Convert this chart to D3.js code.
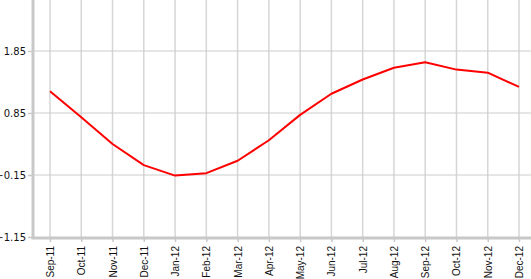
<!DOCTYPE html>
<html><head><meta charset="utf-8">
<script src="https://cdn.jsdelivr.net/npm/d3@7"></script>
<style>body{margin:0;background:#fff;}svg{display:block;}</style>
</head><body>
<script>
const categories = ["Sep-11","Oct-11","Nov-11","Dec-11","Jan-12","Feb-12","Mar-12","Apr-12","May-12","Jun-12","Jul-12","Aug-12","Sep-12","Oct-12","Nov-12","Dec-12"];
const values = [1.20, 0.78, 0.35, 0.01, -0.16, -0.12, 0.08, 0.41, 0.82, 1.16, 1.39, 1.58, 1.67, 1.55, 1.50, 1.27];
const yTicks = [-1.15, -0.15, 0.85, 1.85];

const W = 531, H = 279;
const svg = d3.select("body").append("svg").attr("width", W).attr("height", H);
const x = d3.scalePoint().domain(categories).range([50, 519]);
const y = d3.scaleLinear().domain([-1.15, 1.85]).range([237, 51]);
const axisX = 33, axisY = 237;

// vertical gridlines
svg.append("g").selectAll("line").data(categories).join("line")
  .attr("x1", d => x(d)).attr("x2", d => x(d)).attr("y1", 0).attr("y2", axisY)
  .attr("stroke", "#d6d6d6").attr("stroke-width", 1.5);
// horizontal gridlines
svg.append("g").selectAll("line").data(yTicks.slice(1)).join("line")
  .attr("x1", axisX).attr("x2", W).attr("y1", d => y(d)).attr("y2", d => y(d))
  .attr("stroke", "#cccccc").attr("stroke-width", 1);

// y axis
const ya = svg.append("g").attr("transform", `translate(${axisX},0)`)
  .call(d3.axisLeft(y).tickValues(yTicks).tickFormat(d3.format(".2f")).tickSize(5).tickPadding(2));
ya.select(".domain").remove();
ya.selectAll(".tick line").attr("stroke", "#c8c8c8").attr("stroke-width", 1.5);
ya.selectAll(".tick text").attr("font-family", "DejaVu Sans, Verdana, sans-serif").attr("font-size", 10).attr("fill", "#111");
svg.append("line").attr("x1", axisX).attr("x2", axisX).attr("y1", 0).attr("y2", axisY + 1.5)
  .attr("stroke", "#c8c8c8").attr("stroke-width", 3);

// x axis
const xa = svg.append("g").attr("transform", `translate(0,${axisY})`)
  .call(d3.axisBottom(x).tickSize(5).tickPadding(2));
xa.select(".domain").remove();
xa.selectAll(".tick line").attr("stroke", "#c8c8c8").attr("stroke-width", 1.5);
xa.selectAll(".tick text")
  .attr("font-family", "Liberation Sans, Arial, sans-serif").attr("font-size", 10).attr("fill", "#111")
  .attr("text-anchor", "end").attr("transform", "rotate(-90)")
  .attr("x", -9).attr("y", 0).attr("dy", "0.35em");
svg.append("line").attr("x1", axisX - 1.5).attr("x2", W).attr("y1", axisY + 1).attr("y2", axisY + 1)
  .attr("stroke", "#c8c8c8").attr("stroke-width", 3);

// line
svg.append("path").datum(values.map((v, i) => [categories[i], v]))
  .attr("fill", "none").attr("stroke", "#ff0000").attr("stroke-width", 2)
  .attr("stroke-linejoin", "round")
  .attr("d", d3.line().x(d => x(d[0])).y(d => y(d[1])));
</script>
</body></html>
